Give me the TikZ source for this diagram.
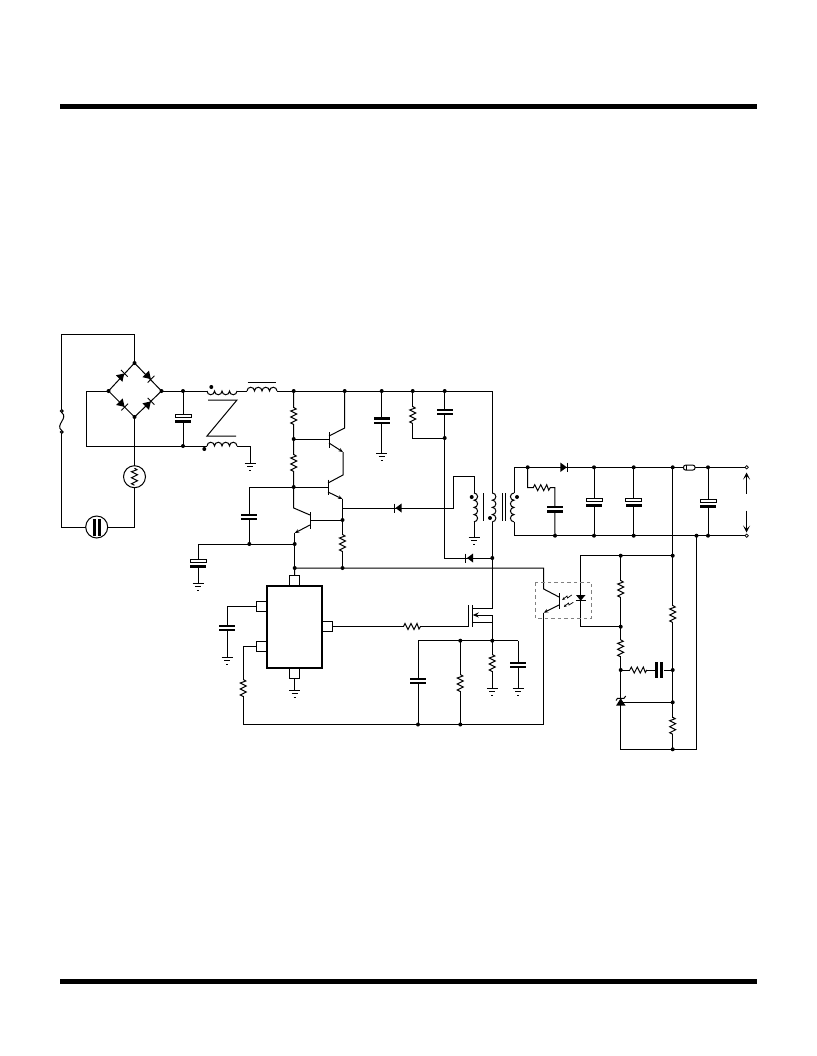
\documentclass[tikz,border=0pt]{standalone}
\usetikzlibrary{arrows.meta}
\tikzset{
  wire/.style={line width=1pt,line join=miter},
  arrowtip/.style={-{Stealth[length=4.5pt,width=3.6pt]}},
  termdot/.style={circle,draw,fill=white,inner sep=0pt,minimum size=3.4pt,line width=0.7pt},
}
% junction with a dot / plain coordinate
\newcommand\Jn[3]{\coordinate (#1) at (#2,#3);}
\newcommand\Dots[1]{\foreach \n in {#1}{\fill (\n) circle (2);}}
% resistor: centre x,y, rotation
\newcommand\Res[3]{\begin{scope}[shift={(#1,#2)},rotate=#3]
  \fill[white] (-8,-4) rectangle (8,4);
  \draw[wire] (-8.5,0)--(-7,-3)--(-4,3)--(-1,-3)--(2,3)--(5,-3)--(7,2.5)--(8.5,0);
\end{scope}}
% capacitor, wire vertical: x, centre y, half width
\newcommand\CapV[3]{\fill[white] (#1-#3,#2-2) rectangle (#1+#3,#2+2);
  \fill[black] (#1-#3,#2-3.3) rectangle (#1+#3,#2-1);
  \fill[black] (#1-#3,#2+1) rectangle (#1+#3,#2+3.3);}
% polarised capacitor: open upper plate, solid lower
\newcommand\CapP[4]{\fill[white] (#1-#4,#2) rectangle (#1+#4,#3);
  \draw[line width=0.7pt,fill=white] (#1-#4,#2-2) rectangle (#1+#4,#2+1.2);
  \fill[black] (#1-#4,#3-1.5) rectangle (#1+#4,#3+1.5);}
\newcommand\Gnd[2]{\draw[wire] (#1-5.5,#2)--(#1+5.5,#2) (#1-3,#2+3.5)--(#1+3,#2+3.5) (#1-1,#2+7)--(#1+1,#2+7);}
% coil: x,y start, rotation, y-scale sign, bumps, radius
\newcommand\Coil[6]{\begin{scope}[shift={(#1,#2)},rotate=#3,yscale=#4]
  \fill[white] (0,-#6) rectangle ({2*#5*#6},#6+1);
  \draw[wire] (0,0) \foreach \k in {1,...,#5}{ arc[start angle=180,end angle=0,radius=#6] };
\end{scope}}
\begin{document}
\begin{tikzpicture}[x=1pt,y=-1pt,line cap=butt]
\useasboundingbox (0,0) rectangle (816,1056);
\fill[white] (0,0) rectangle (816,1056);
\fill[black] (60,104.2) rectangle (756.8,109);
\fill[black] (60,979.2) rectangle (756.8,984);

% === named junctions ===
\Jn{acTL}{61.5}{334}\Jn{acTR}{134.5}{334}\Jn{brT}{134.5}{363}\Jn{brL}{108.5}{391}\Jn{brR}{161.5}{391}\Jn{brB}{134.5}{417}
\Jn{wL}{86}{391}\Jn{wLb}{86}{446}\Jn{capA}{183}{391}\Jn{capB}{183}{446}
\Jn{acBL}{61.5}{527}\Jn{acBR}{134.5}{527}
\Jn{chB}{250}{446}\Jn{chG}{250}{463}
\Jn{r1}{293.7}{391}\Jn{r2}{344.7}{391}\Jn{r3}{381.7}{391}\Jn{r4}{412.7}{391}\Jn{r5}{444.7}{391}\Jn{rE}{492.3}{391}
\Jn{a1}{293.7}{439}\Jn{a2}{293.7}{487}\Jn{a3}{293.7}{508}
\Jn{e3}{294.7}{533}\Jn{e4}{294.7}{544}\Jn{e5}{294.7}{568}
\Jn{cfL}{249.3}{487}\Jn{cfB}{249.3}{544}\Jn{capL}{198}{544}\Jn{capLg}{198}{583}
\Jn{t1c}{344.7}{428}\Jn{t1e}{343}{452}\Jn{t2c}{343}{475}\Jn{t2e}{342.5}{499}
\Jn{k1}{342.5}{508}\Jn{k2}{342.5}{520}\Jn{k3}{342.5}{568}
\Jn{capGnd}{381.7}{453}
\Jn{s1}{412.7}{438}\Jn{s2}{444.7}{438}\Jn{s3}{444.7}{558}\Jn{s4}{492.3}{558}
\Jn{w1}{453}{508}\Jn{w2}{453}{476}\Jn{w3}{474}{476}\Jn{w4}{474}{537}
\Jn{md}{492.3}{608}\Jn{ms}{492.3}{615}\Jn{mb}{492.3}{622.5}\Jn{n0}{492.3}{640.7}
\Jn{n1}{418}{640.7}\Jn{n2}{460.3}{640.7}\Jn{n3}{518}{640.7}
\Jn{b1}{418}{724.5}\Jn{b2}{460.3}{724.5}\Jn{b3}{543.7}{724.5}\Jn{b4}{243.3}{724.5}
\Jn{g1}{492.3}{688}\Jn{g2}{518}{688}
\Jn{railE}{543.7}{568}\Jn{oc}{543.7}{589}\Jn{oe}{543.7}{612.7}
\Jn{u1}{514}{467.3}\Jn{u2}{527.7}{467.3}\Jn{u3}{594}{467.3}\Jn{u4}{633.7}{467.3}\Jn{u5}{672.7}{467.3}\Jn{u6}{708}{467.3}
\Jn{v1}{514}{535.7}\Jn{v2}{555}{535.7}\Jn{v3}{594}{535.7}\Jn{v4}{633.7}{535.7}\Jn{v5}{696.5}{535.7}\Jn{v6}{708}{535.7}
\Jn{rc1}{527.7}{487.7}\Jn{rc2}{554.8}{487.7}
\Jn{f1}{580.5}{555.7}\Jn{f2}{620.7}{555.7}\Jn{f3}{672.7}{555.7}
\Jn{h1}{580.5}{626.7}\Jn{h2}{620.7}{626.7}\Jn{h3}{620.7}{670}\Jn{h4}{672.7}{670}\Jn{h5}{672.7}{702.3}\Jn{h6}{620.7}{702.3}
\Jn{h7}{620.7}{749.3}\Jn{h8}{672.7}{749.3}\Jn{h9}{696.5}{749.3}
\Jn{ic1}{294.5}{575}\Jn{ic2}{294.5}{678}\Jn{ic3}{294.5}{690}
\Jn{icA}{256}{606}\Jn{icB}{256}{646.5}\Jn{icC}{332}{626.5}\Jn{gate}{468}{626.5}
\Jn{lA}{227}{606}\Jn{lB}{227}{657}\Jn{lC}{243.3}{646.5}

% === wiring ===
\draw[wire] (brT)--(acTR)--(acTL)--(acBL)--(acBR)--(brB);
\draw[wire] (brT)--(brL)--(brB)--(brR)--(brT);
\draw[wire] (wL)--(brL) (wL)--(wLb)--(207,446);
\draw[wire] (brR)--(207,391) (237,391)--(247,391) (277,391)--(rE);
\draw[wire] (capA)--(capB);
\draw[wire] (237,446)--(chB)--(chG);
\draw[wire] (r1)--(a1)--(a2)--(a3)--(310,515);
\draw[wire] (a1)--(329,439) (a2)--(328,487);
\draw[wire] (r2)--(t1c)--(329,436);
\draw[wire,arrowtip] (329,443)--(t1e);
\draw[wire] (t1e)--(t2c)--(328,483);
\draw[wire,arrowtip] (328,492)--(t2e);
\draw[wire] (t2e)--(k1)--(k2)--(k3);
\draw[wire] (k2)--(310,520);
\draw[wire,arrowtip] (310,525)--(e3);
\draw[wire] (e3)--(e4)--(e5);
\draw[wire] (a2)--(cfL)--(cfB);
\draw[wire] (capL)--(e4);
\draw[wire] (capL)--(capLg);
\draw[wire] (r3)--(capGnd);
\draw[wire] (r4)--(s1)--(s2);
\draw[wire] (r5)--(s2)--(s3)--(s4);
\draw[wire] (rE)--(492.3,493) (492.3,522)--(s4)--(md)--(472.7,608);
\draw[wire] (k1)--(w1)--(w2)--(w3)--(474,493) (474,522)--(w4);
\draw[wire] (e5)--(k3)--(railE)--(oc)--(559,597);
\draw[wire,arrowtip] (559,605)--(oe);
\draw[wire] (oe)--(b3)--(b4)--(lC)--(icB);
\draw[wire] (ic1)--(e5);
\draw[wire] (ic2)--(ic3);
\draw[wire] (icA)--(lA)--(lB);
\draw[wire] (icC)--(gate);
\draw[wire] (mb)--(472.7,622.5);
\draw[wire] (ms)--(n0);
\draw[wire,-{Stealth[length=6pt,width=5pt]}] (ms)--(472.7,615);
\draw[wire] (n1)--(n3);
\draw[wire] (n1)--(b1) (n2)--(b2) (n0)--(g1) (n3)--(g2);
\draw[wire] (u1)--(514,493) (514,522)--(v1)--(v6)--(744.9,535.7);
\draw[wire] (u1)--(744.9,467.3);
\draw[wire] (u2)--(rc1)--(rc2)--(v2);
\draw[wire] (u3)--(v3) (u4)--(v4) (u6)--(v6);
\draw[wire] (u5)--(f3)--(h4)--(h5)--(h8);
\draw[wire] (f3)--(f1)--(h1)--(h2);
\draw[wire] (f2)--(h2)--(h3)--(h7)--(h9)--(v5);
\draw[wire] (h3)--(h4) (h6)--(h5);
\node[termdot] (ta) at (746.7,467.3) {};
\node[termdot] (tb) at (746.7,535.7) {};
\coordinate (arU) at (746.5,472.5); \coordinate (arUs) at (746.5,493.5);
\coordinate (arD) at (746.5,532.5); \coordinate (arDs) at (746.5,510.7);
\draw[wire,-{Stealth[length=7pt,width=7pt,inset=3.5pt]}] (arUs)--(arU);
\draw[wire,-{Stealth[length=7pt,width=7pt,inset=3.5pt]}] (arDs)--(arD);

% === bridge diodes ===
\foreach \x/\y/\r in {121.7/376/45, 148.3/376.5/-45, 122/404.3/-45, 148.3/404/45}{
  \begin{scope}[shift={(\x,\y)},rotate=\r]
    \fill (-3.6,-4.6)--(-3.6,4.6)--(3.6,0)--cycle;
    \draw[line width=0.9pt] (3.8,-4.8)--(3.8,4.8);
  \end{scope}}
% AC fuse
\draw[wire,fill=white] (61.7,411) circle (1.4);
\draw[wire,fill=white] (61.7,432) circle (1.4);
\fill[white] (60.7,413) rectangle (62.7,430);
\draw[wire] (61.7,412.5) .. controls (69,418) and (54.5,425) .. (61.7,430.5);
% circles
\draw[wire,fill=white] (134.5,476.7) circle (11);
\Res{134.5}{476.7}{90}
\draw[wire,fill=white] (96.7,527) circle (11);
\fill (93.2,519) rectangle (96,535.5);
\fill (97.8,519) rectangle (100.6,535.5);
% caps
\CapP{183}{416}{421.7}{8}
\CapV{249.3}{516.8}{8}
\CapP{198}{561.5}{566.5}{8}
\Gnd{198}{583}
\CapV{381.7}{420.5}{8}
\Gnd{381.7}{453}
\CapV{444.7}{412}{8}
\CapV{554.8}{509.3}{8}
\CapP{594}{500.3}{505.3}{8}
\CapP{633.7}{500.3}{505.3}{8}
\CapP{708}{501.3}{506.3}{8}
\CapV{227}{628}{8}
\Gnd{227}{657}
\CapV{418}{681}{8}
\CapV{518}{665}{8}
\Gnd{518}{688}
\Gnd{492.3}{688}
\Gnd{250}{463}
\Gnd{294.5}{690}
\Gnd{474}{537}
% CM choke + inductor
\Coil{207}{391}{0}{1}{4}{3.75}
\Coil{207}{446}{0}{-1}{4}{3.75}
\Coil{247}{391}{0}{-1}{4}{3.75}
\draw[wire] (247.5,382.3)--(276,382.3);
\draw[wire] (208,400)--(237,400)--(207,436)--(236,436);
\fill (211.3,387) circle (2) (204.3,449) circle (2);
% transformer
\Coil{474}{493}{-90}{-1}{4}{3.6}
\Coil{492.3}{493}{-90}{-1}{4}{3.6}
\Coil{514}{493}{-90}{1}{4}{3.6}
\draw[wire] (483.3,493)--(483.3,521) (502,493)--(502,521) (505.3,493)--(505.3,521);
\fill (471.7,497) circle (2) (490,518) circle (2) (517,497) circle (2);
% resistors
\Res{293.7}{416}{90}
\Res{293.7}{463}{90}
\Res{412.7}{415}{90}
\Res{342.5}{543}{90}
\Res{412}{626.5}{0}
\Res{243.3}{688}{90}
\Res{460.3}{683}{90}
\Res{492.3}{663}{90}
\Res{541.7}{487.7}{0}
\Res{620.7}{589}{90}
\Res{620.7}{648.3}{90}
\Res{672.7}{614}{90}
\Res{672.7}{725.7}{90}
\Res{638.3}{670}{0}
% series cap
\fill[white] (655,662) rectangle (664,678);
\fill (655.2,661.7) rectangle (658.2,678.3);
\fill (660.2,661.7) rectangle (663.2,678.3);
% transistor bars
\draw[wire] (329,432)--(329,448) (328,479.5)--(328,495) (310,512)--(310,529) (559,593)--(559,609);
% MOSFET
\draw[wire] (468,605)--(468,627);
\draw[wire] (472.7,605)--(472.7,627);
% series diodes
\fill (395.5,508)--(401.5,503.5)--(401.5,512.5)--cycle;
\draw[line width=1pt] (394,503.5)--(394,512.5);
\fill (467,558)--(473,553.5)--(473,562.5)--cycle;
\draw[line width=1pt] (465.5,553.5)--(465.5,562.5);
\fill[white] (560.5,460) rectangle (568,475);
\draw[wire] (560,467.3)--(568,467.3);
\fill (560.3,462.5)--(560.3,472)--(566.8,467.3)--cycle;
\draw[line width=1pt] (567.3,462.5)--(567.3,472);
% output fuse
\draw[wire,fill=white,rounded corners=2pt] (683.5,465.2) rectangle (695,470);
\draw[wire] (686.3,465.2)--(686.3,470);
% LED + optocoupler
\fill (576,595)--(585.5,595)--(580.7,600.7)--cycle;
\draw[line width=1pt] (575.5,600.9)--(585.5,600.9);
\draw[gray,line width=0.6pt,dash pattern=on 3.5pt off 3pt] (535.3,582.3) rectangle (591.7,618.3);
\draw[line width=0.7pt,-{Stealth[length=3pt,width=2.8pt]}] (571.7,595)--(567.5,598)--(567,596)--(562.2,600);
\draw[line width=0.7pt,-{Stealth[length=3pt,width=2.8pt]}] (573.3,602.3)--(569,605)--(568.5,603)--(563.8,607);
% zener
\fill (616,705.7)--(625.6,705.7)--(620.7,698.3)--cycle;
\draw[wire] (616,700.5)--(617.5,698.3)--(624,698.3)--(625.7,696);
% IC
\draw[line width=0.9pt,fill=white] (289.5,575.3) rectangle (299.5,586);
\draw[line width=0.9pt,fill=white] (289.5,668) rectangle (299.5,678);
\draw[line width=0.9pt,fill=white] (256,601) rectangle (267,611);
\draw[line width=0.9pt,fill=white] (256,641.3) rectangle (267,651.3);
\draw[line width=0.9pt,fill=white] (322,621.3) rectangle (332.5,631.3);
\draw[line width=2pt,fill=white] (267.2,586) rectangle (322,668);
% dots
\Dots{brT,brL,brR,brB,capA,capB,r1,r2,r3,r4,r5,a1,a2,k2,k3,e4,e5,cfB,s2,s4,n0,n2,b1,b2,u2,u3,u4,u5,u6,v2,v3,v4,v5,v6,f2,f3,h2,h3,h4,h5,h8}
\end{tikzpicture}
\end{document}
